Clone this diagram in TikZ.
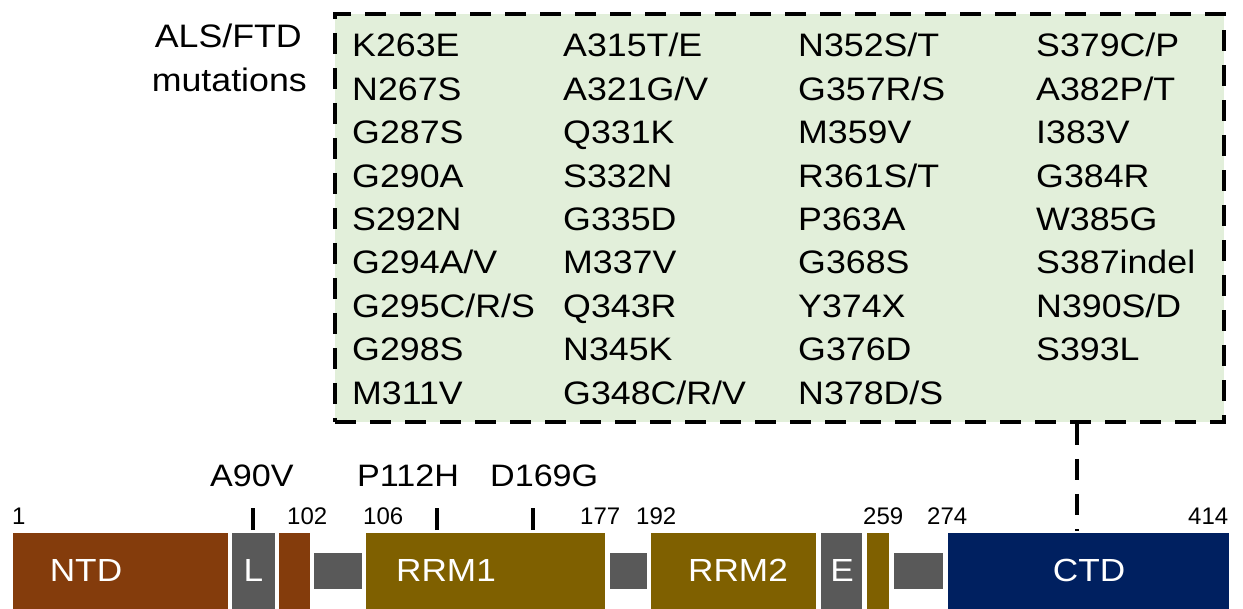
\documentclass[tikz,border=0pt]{standalone}
\usepackage{fontspec}
\setmainfont{Liberation Sans}
\usepackage{graphicx}
\newcommand\sx[1]{\scalebox{1.1}[1]{#1}}
\definecolor{ntdc}{HTML}{843C0C}
\definecolor{rrmc}{HTML}{7F6000}
\definecolor{lgray}{HTML}{595959}
\definecolor{ctdc}{HTML}{002060}
\definecolor{boxgreen}{HTML}{E2EFDA}
\begin{document}
\begin{tikzpicture}[x=1pt,y=-1pt,
  mut/.style={anchor=base west, inner sep=0pt, font=\fontsize{32.5}{39}\selectfont},
  num/.style={anchor=base west, inner sep=0pt, font=\fontsize{24}{29}\selectfont},
  pm/.style={anchor=base west, inner sep=0pt, font=\fontsize{31}{37}\selectfont},
  dom/.style={anchor=north west, inner sep=0pt, draw=none, minimum height=80pt},
  dlab/.style={text=white, inner sep=0pt, font=\fontsize{32}{38}\selectfont},
  linker/.style={fill=lgray, anchor=north west, inner sep=0pt, minimum height=36pt},
  tick/.style={line width=3.5pt},
  dashline/.style={line width=4pt, dash pattern=on 21pt off 14pt},
  dashbox/.style={draw=black, dashline, fill=boxgreen}
]
\useasboundingbox (0,0) rectangle (1243,609);
\fill[white] (0,0) rectangle (1243,609);

% mutation box
\node[dashbox, anchor=north west, minimum width=889pt, minimum height=408pt, inner sep=0pt] (box) at (333,12) {};

\node[mut, anchor=base east] (als) at (302,48) {\sx{ALS/FTD}};
\node[mut, anchor=base east] (mutw) at (307,92) {\sx{mutations}};

\foreach \t [count=\i from 0] in {K263E,N267S,G287S,G290A,S292N,G294A/V,G295C/R/S,G298S,M311V}
  \node[mut] (ca\i) at (352,{57+43.4*\i}) {\sx{\t}};
\foreach \t [count=\i from 0] in {A315T/E,A321G/V,Q331K,S332N,G335D,M337V,Q343R,N345K,G348C/R/V}
  \node[mut] (cb\i) at (563,{57+43.4*\i}) {\sx{\t}};
\foreach \t [count=\i from 0] in {N352S/T,G357R/S,M359V,R361S/T,P363A,G368S,Y374X,G376D,N378D/S}
  \node[mut] (cc\i) at (798,{57+43.4*\i}) {\sx{\t}};
\foreach \t [count=\i from 0] in {S379C/P,A382P/T,I383V,G384R,W385G,S387indel,N390S/D,S393L}
  \node[mut] (cd\i) at (1036,{57+43.4*\i}) {\sx{\t}};

% domains
\node[dom, fill=ntdc, minimum width=215pt] (ntd) at (13,533) {};
\node[dom, fill=lgray, minimum width=43pt] (ldom) at (232,533) {};
\node[dom, fill=ntdc, minimum width=31pt] (ntdb) at (279,533) {};
\node[linker, minimum width=48pt] (lk1) at (314,553) {};
\node[dom, fill=rrmc, minimum width=239pt] (rrm1) at (366,533) {};
\node[linker, minimum width=37pt] (lk2) at (610,553) {};
\node[dom, fill=rrmc, minimum width=165pt] (rrm2) at (651,533) {};
\node[dom, fill=lgray, minimum width=41pt] (edom) at (821,533) {};
\node[dom, fill=rrmc, minimum width=22pt] (rrm2b) at (867,533) {};
\node[linker, minimum width=49pt] (lk3) at (894,553) {};
\node[dom, fill=ctdc, minimum width=281pt] (ctd) at (948,533) {};

\node[dlab] (ntdl) at (86,570) {\sx{NTD}};
\node[dlab] (ll) at (253.5,570) {\sx{L}};
\node[dlab] (rrm1l) at (446,570) {\sx{RRM1}};
\node[dlab] (rrm2l) at (738,570) {\sx{RRM2}};
\node[dlab] (el) at (842,570) {\sx{E}};
\node[dlab] (ctdl) at (1089,570) {\sx{CTD}};

% numbers
\node[num] (n1) at (12,525) {1};
\node[num] (n102) at (287,525) {102};
\node[num] (n106) at (363,525) {106};
\node[num] (n177) at (580,525) {177};
\node[num] (n192) at (636,525) {192};
\node[num] (n259) at (863,525) {259};
\node[num] (n274) at (927,525) {274};
\node[num] (n414) at (1188,525) {414};

% point mutations
\node[pm] (a90v) at (210,486) {\sx{A90V}};
\node[pm] (p112h) at (357,486) {\sx{P112H}};
\node[pm] (d169g) at (490,486) {\sx{D169G}};
\draw[tick] (253,530) -- (253,508);
\draw[tick] (437,530) -- (437,508);
\draw[tick] (533,530) -- (533,508);

% connector
\coordinate (cx) at (1077,0);
\draw[dashline] (box.south -| cx) -- ([yshift=2pt]ctd.north -| cx);
\end{tikzpicture}
\end{document}
